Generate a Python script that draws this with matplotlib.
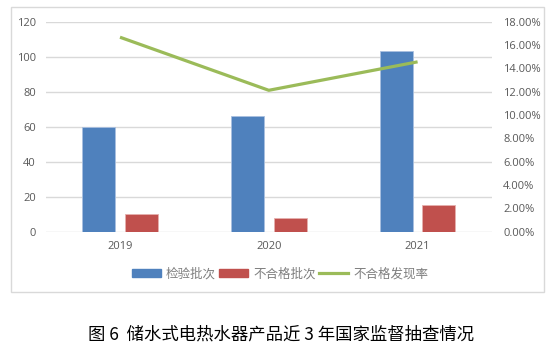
import matplotlib
matplotlib.use("Agg")
import matplotlib.pyplot as plt
from matplotlib.patches import Rectangle, Patch
from matplotlib.lines import Line2D
from matplotlib.ticker import FuncFormatter
import numpy as np

plt.rcParams['font.family'] = ['Noto Sans CJK SC', 'DejaVu Sans']

years = ["2019", "2020", "2021"]
inspected = [60, 66, 103]
failed = [10, 8, 15]
fail_rate = [16.67, 12.12, 14.56]  # percent
labels = ["检验批次", "不合格批次", "不合格发现率"]
caption = "图 6  储水式电热水器产品近 3 年国家监督抽查情况"

W, H = 554, 360
fig = plt.figure(figsize=(W / 100, H / 100), dpi=100)

# outer frame
fig.patches.append(Rectangle((10.7 / W, 1 - 292.3 / H), 533.3 / W, 285 / H,
                             transform=fig.transFigure, fill=False,
                             edgecolor="#d9d9d9", linewidth=1.0))

ax = fig.add_axes([45.6 / W, 1 - 231.7 / H, (492 - 45.6) / W, 210 / H])
x = np.arange(len(years))
bw = 0.222
off = 0.143
blue = "#4F81BD"
red = "#C0504D"
green = "#9BBB59"
ax.bar(x - off, inspected, bw, color=blue, edgecolor="#a9c0e0", linewidth=0.6, zorder=3)
ax.bar(x + off, failed, bw, color=red, edgecolor="#e6b0ae", linewidth=0.6, zorder=3)
ax.set_xlim(-0.5, 2.5)
ax.set_ylim(0, 120)
ax.set_yticks(range(0, 121, 20))
ax.grid(axis="y", color="#d9d9d9", linewidth=1.0, zorder=0)
ax.set_axisbelow(True)
for s in ax.spines.values():
    s.set_visible(False)
ax.set_xticks(x)
ax.set_xticklabels(years)
ax.tick_params(axis="both", length=0, colors="#595959", labelsize=8)
ax.tick_params(axis="y", pad=7)
ax.tick_params(axis="x", pad=7)
for t in ax.get_xticklabels() + ax.get_yticklabels():
    t.set_family(["Open Sans", "DejaVu Sans"])

ax2 = ax.twinx()
ax2.set_ylim(0, 18)
ax2.set_yticks(np.arange(0, 18.1, 2))
ax2.yaxis.set_major_formatter(FuncFormatter(lambda v, p: f"{v:.2f}%"))
for s in ax2.spines.values():
    s.set_visible(False)
ax2.tick_params(axis="y", length=0, colors="#595959", labelsize=8, pad=8)
for t in ax2.get_yticklabels():
    t.set_family(["Open Sans", "DejaVu Sans"])
ax2.plot(x, fail_rate, color=green, linewidth=2.3, solid_capstyle="butt", zorder=4)

handles = [Patch(facecolor=blue, edgecolor=blue),
           Patch(facecolor=red, edgecolor=red),
           Line2D([0], [0], color=green, linewidth=2.3)]
leg = fig.legend(handles, labels, loc="center", bbox_to_anchor=(280 / W, 1 - 274 / H),
                 ncol=3, frameon=False, fontsize=9, handlelength=2.3, handleheight=0.55,
                 handletextpad=0.4, columnspacing=0.3, labelcolor="#7f7f7f")

fig.text(281 / W, 1 - 335 / H, caption, ha="center", va="center", fontsize=12.5, color="#000000")

fig.savefig("out.png", dpi=100)
